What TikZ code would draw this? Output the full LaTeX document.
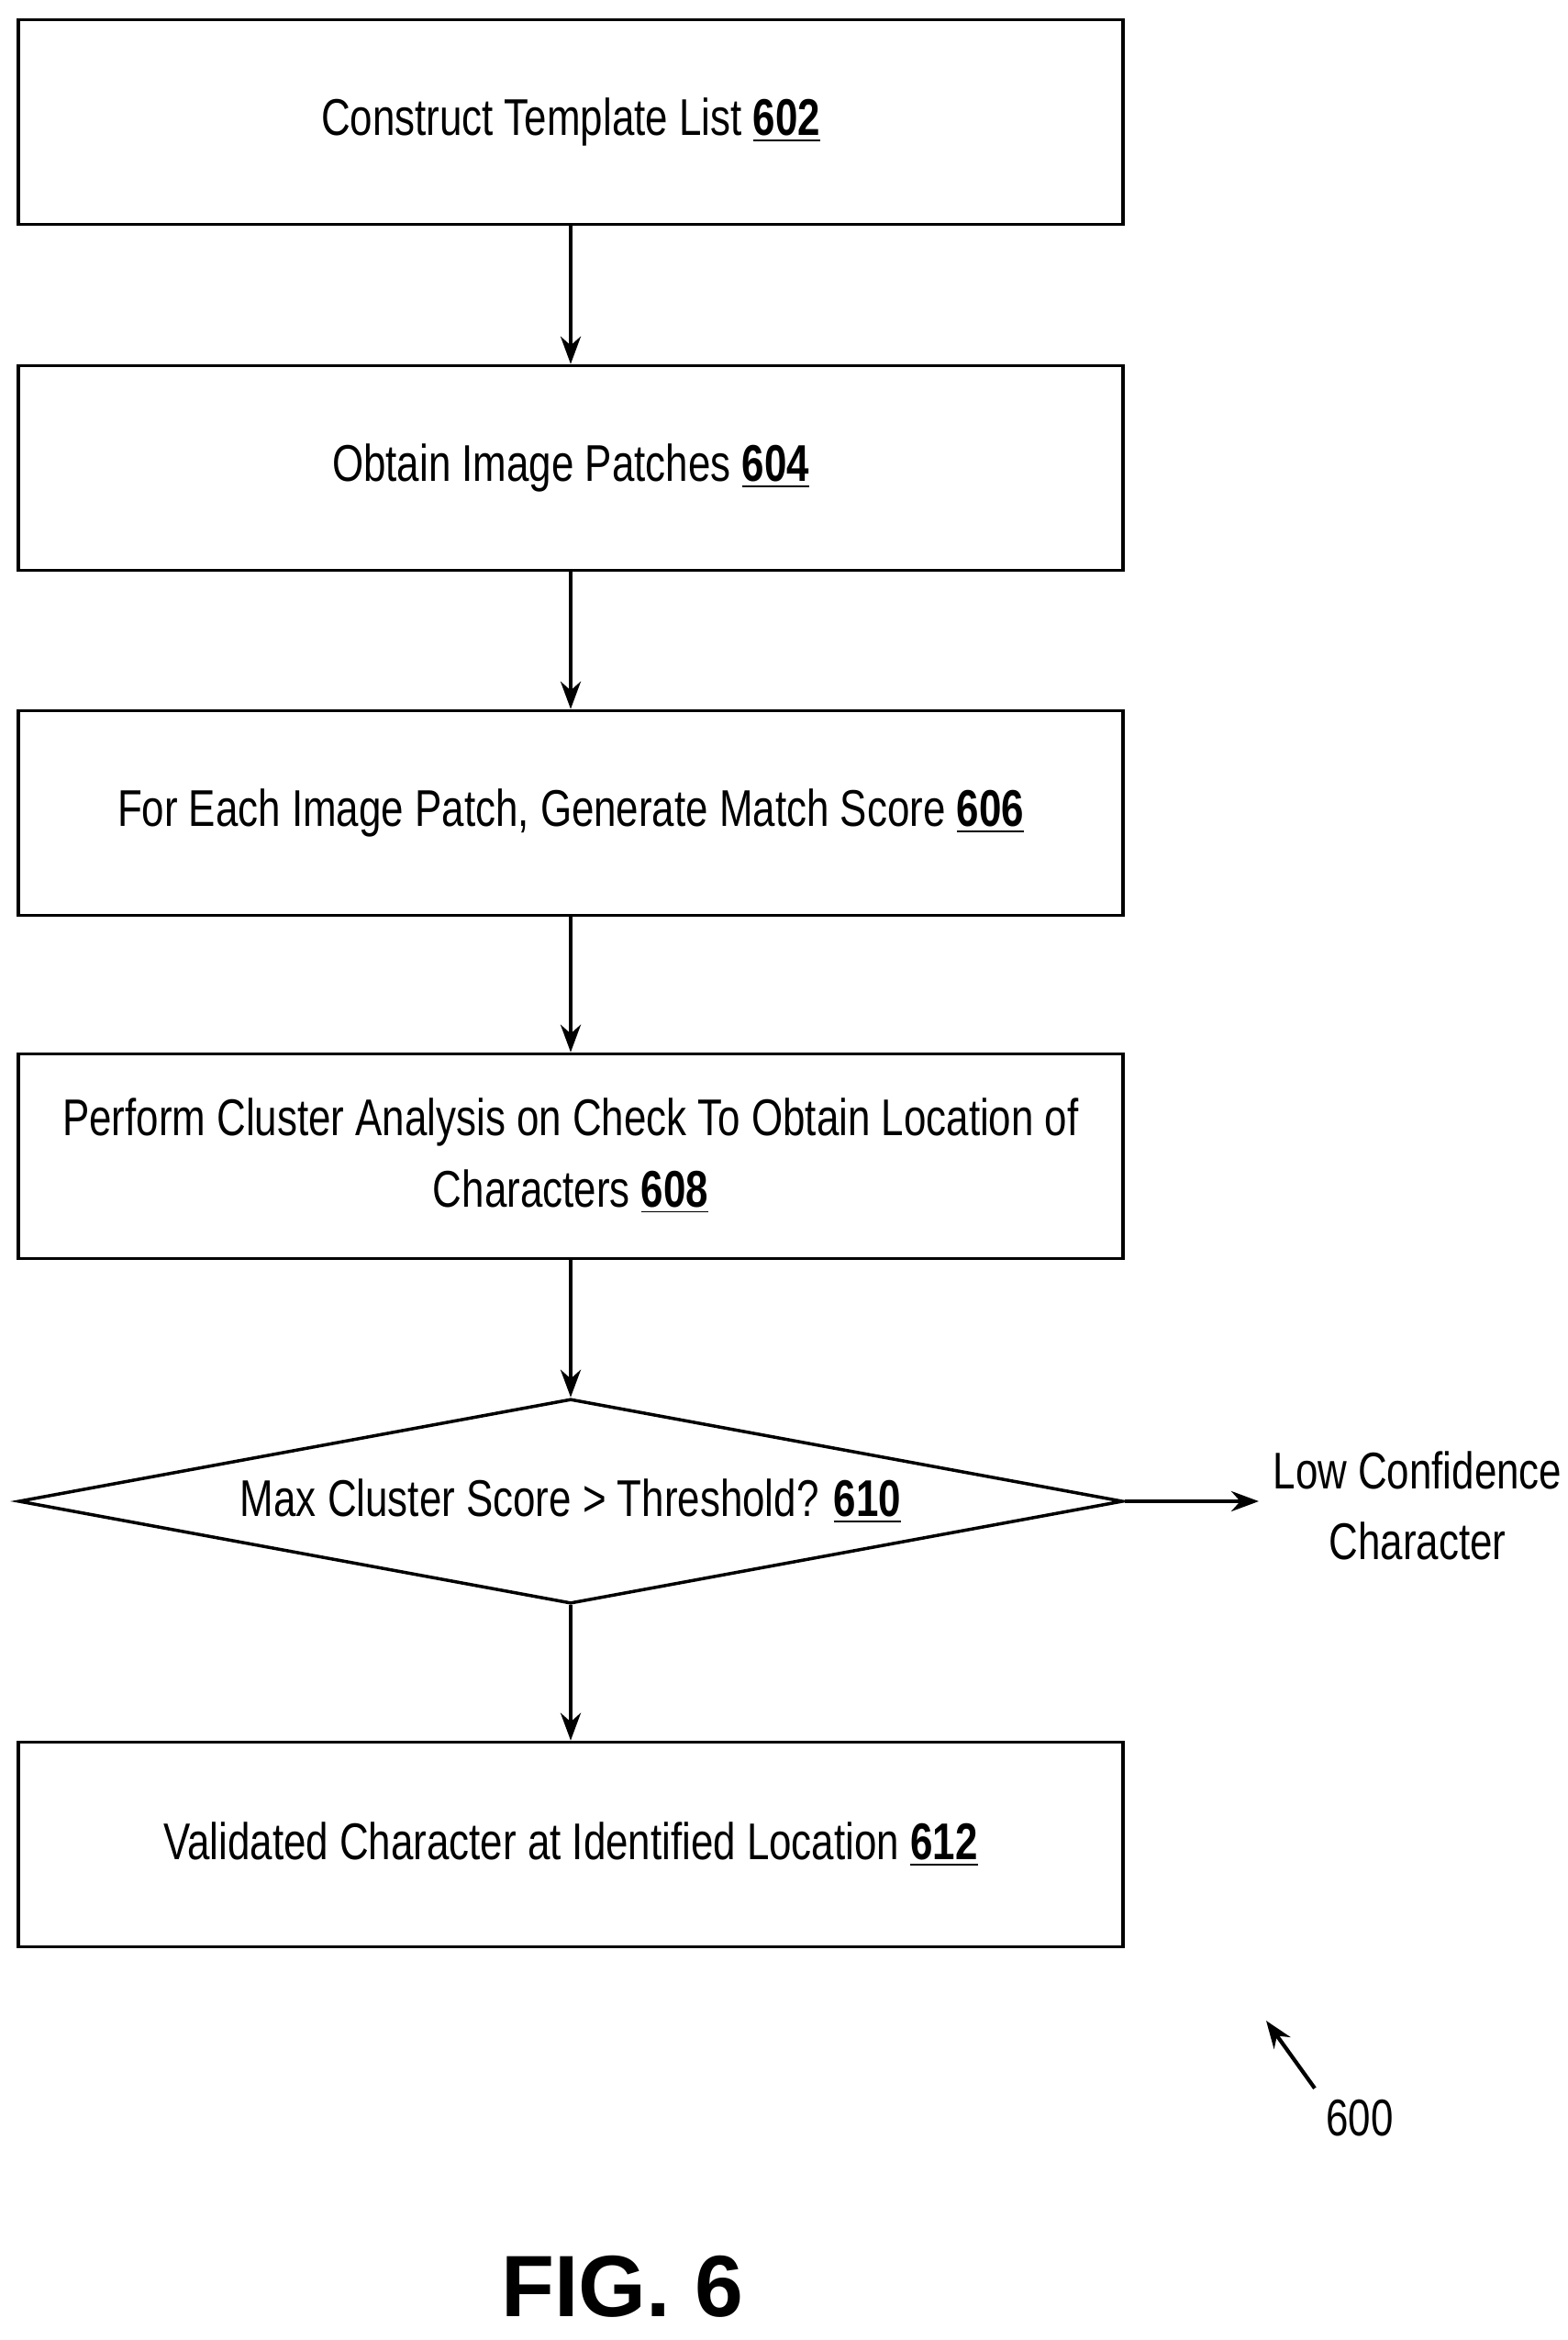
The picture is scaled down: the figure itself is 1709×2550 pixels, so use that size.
\documentclass[tikz,border=0pt]{standalone}
\usepackage{fontspec}
\setmainfont[FakeStretch=0.78]{Liberation Sans}
\newfontfamily\figfont{Liberation Sans}
\usetikzlibrary{shapes.geometric, arrows.meta}
\tikzstyle{process} = [rectangle, minimum width=12.03cm, minimum height=2.23cm, align=center, draw=black, line width=1pt, font=\fontsize{16}{22}\selectfont]
\tikzstyle{decision} = [diamond, minimum width=12.03cm, minimum height=2.23cm, inner sep=0pt, aspect=5.4, align=center, draw=black, line width=1pt, font=\fontsize{16}{22}\selectfont]
\tikzstyle{arrow} = [line width=1.2pt,-{Stealth[length=0.3cm, width=0.22cm]}]
\newcommand{\refnum}[1]{\textbf{\underline{#1}}}
\begin{document}
\begin{tikzpicture}[x=0.01cm, y=-0.01cm]
    \useasboundingbox (0,0) rectangle (1709,2550);
    % Nodes
    \node (list) [process] at (622,133) {Construct Template List \refnum{602}};
    \node (patch) [process] at (622,510) {Obtain Image Patches \refnum{604}};
    \node (score) [process] at (622,886) {For Each Image Patch, Generate Match Score \refnum{606}};
    \node (cluster) [process] at (622,1260) {Perform Cluster Analysis on Check To Obtain Location of\\Characters \refnum{608}};
    \node (thresh) [decision] at (622,1636) {Max Cluster Score > Threshold? \refnum{610}};
    \node (valid) [process] at (622,2010) {Validated Character at Identified Location \refnum{612}};
    \node (low) [align=center, font=\fontsize{16}{22}\selectfont] at (1545,1641) {Low Confidence\\Character};
    \coordinate (lowend) at (1372,1636);
    \node (num) [font=\fontsize{16}{22}\selectfont] at (1482,2308) {600};
    \coordinate (tip) at (1380,2202);
    \node (fig) [font=\figfont\bfseries\fontsize{27}{32}\selectfont] at (678,2492) {FIG. 6};
    % Arrows
    \draw [arrow] (list) -- (patch);
    \draw [arrow] (patch) -- (score);
    \draw [arrow] (score) -- (cluster);
    \draw [arrow] (cluster) -- (thresh);
    \draw [arrow] (thresh) -- (valid);
    \draw [arrow] (thresh.east) -- (lowend);
    \draw [arrow] (num.north west) -- (tip);
\end{tikzpicture}
\end{document}
